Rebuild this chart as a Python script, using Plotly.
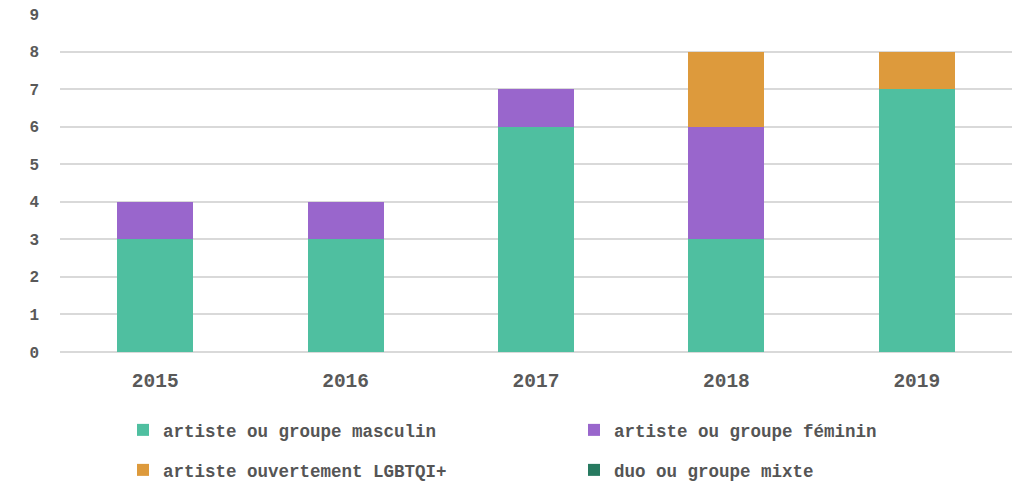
import plotly.graph_objects as go

years = ["2015", "2016", "2017", "2018", "2019"]
masculin = [3, 3, 6, 3, 7]
feminin = [1, 1, 1, 3, 0]
lgbtqi = [0, 0, 0, 2, 1]
mixte = [0, 0, 0, 0, 0]

series = [
    ("artiste ou groupe masculin", masculin, "#4FBFA0", "legend"),
    ("artiste ou groupe féminin", feminin, "#9966CC", "legend"),
    ("artiste ouvertement LGBTQI+", lgbtqi, "#DD9A3C", "legend2"),
    ("duo ou groupe mixte", mixte, "#277A60", "legend2"),
]

FONT = "Liberation Mono"
W, H = 1018, 478
fig = go.Figure()
for name, vals, col, lg in series:
    fig.add_trace(go.Bar(x=years, y=vals, name=name, marker_color=col,
                         marker_line_width=0, legend=lg))

legend_common = dict(orientation="h", xanchor="left", yanchor="middle",
                     xref="container", yref="container",
                     font=dict(family=FONT, size=17.5, color="#555555", weight="bold"),
                     entrywidth=406, entrywidthmode="pixels", traceorder="normal",
                     bgcolor="rgba(0,0,0,0)", itemwidth=30)

fig.update_layout(
    width=W, height=H,
    margin=dict(l=52, r=14, t=6, b=134, autoexpand=False),
    paper_bgcolor="white", plot_bgcolor="white",
    barmode="stack", bargap=0.6,
    font=dict(family=FONT, color="#595959", size=16),
    legend=dict(x=115 / W, y=1 - 422 / H, **legend_common),
    legend2=dict(x=115 / W, y=1 - 462 / H, **legend_common),
    xaxis=dict(showgrid=False, ticks="", ticklabelstandoff=14,
               tickfont=dict(family=FONT, size=19.5, color="#595959", weight="bold")),
    yaxis=dict(range=[0, 9], dtick=1, tick0=0, showgrid=True, gridcolor="#D9D9D9",
               gridwidth=2, zeroline=True, zerolinecolor="#D9D9D9", zerolinewidth=2,
               ticklabelstandoff=20, ticklabeloverflow="allow",
               tickfont=dict(family=FONT, size=16, color="#595959", weight="bold")),
)
fig.write_html("out.html")
